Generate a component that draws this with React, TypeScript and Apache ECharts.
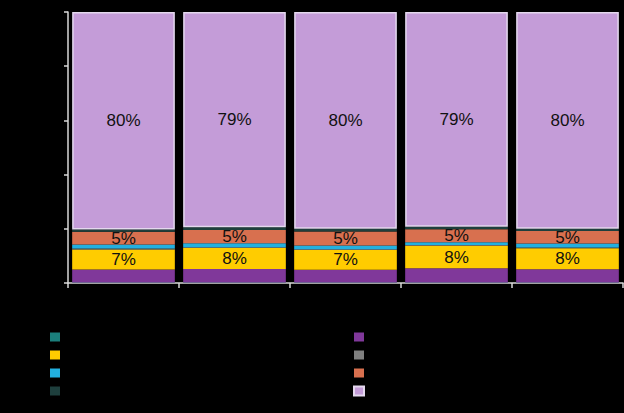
import React, { useEffect, useRef } from "react";
import * as echarts from "echarts";

const categories = ["1", "2", "3", "4", "5"];

const seriesNames = [
  "Series 1",
  "Series 2",
  "Series 3",
  "Series 4",
  "Series 5",
  "Series 6",
  "Series 7",
  "Series 8",
];

const teal = [0.2, 0.2, 0.2, 0.2, 0.2];
const purple = [4.8, 5.0, 4.7, 5.2, 4.9];
const yellow = [7.4, 7.7, 7.3, 8.3, 7.7];
const grey = [0.3, 0.3, 0.3, 0.3, 0.3];
const blue = [1.5, 1.5, 1.3, 1.0, 1.5];
const orange = [4.7, 4.9, 5.2, 4.8, 4.6];
const darkTeal = [0.8, 1.0, 1.0, 1.0, 0.8];
const lavender = [80.3, 79.4, 80.0, 79.2, 80.0];

const yTicks = [0, 20, 40, 60, 80, 100];

const colors = [
  "#1B7F7C",
  "#80389A",
  "#FFCC00",
  "#7F7F7F",
  "#22B0E0",
  "#D8704F",
  "#1E3F3D",
  "#C49CD8",
];

const values = [teal, purple, yellow, grey, blue, orange, darkTeal, lavender];
const labelled = [false, false, true, false, false, true, false, true];

export default function App() {
  const ref = useRef<HTMLDivElement>(null);

  useEffect(() => {
    document.body.style.margin = "0";
    document.body.style.background = "#000";
    const chart = echarts.init(ref.current!, null, { renderer: "svg" });
    const series = seriesNames.map((name, i) => ({
      name,
      type: "bar",
      stack: "total",
      data: values[i],
      barCategoryGap: "7.5%",
      itemStyle: {
        color: colors[i],
        borderColor: i === 7 ? "#E4D8EE" : colors[i],
        borderWidth: i === 7 ? 1.5 : 0,
      },
      label: {
        show: labelled[i],
        position: "inside",
        color: "#111",
        fontSize: 17,
        fontFamily: "Liberation Sans, Arial, sans-serif",
        formatter: (p: any) => (p.value >= 4.5 ? Math.round(p.value) + "%" : ""),
      },
    }));

    chart.setOption({
      animation: false,
      backgroundColor: "#000",
      grid: { left: 68, right: 1, top: 12, bottom: 130 },
      xAxis: {
        type: "category",
        data: categories,
        axisLine: { lineStyle: { color: "#D9D9D9", width: 1.5 } },
        axisTick: { show: true, length: 5, lineStyle: { color: "#D9D9D9", width: 1.5 } },
        axisLabel: { color: "#000", fontSize: 12 },
      },
      yAxis: {
        type: "value",
        min: yTicks[0],
        max: yTicks[yTicks.length - 1],
        interval: 20,
        axisLine: { show: true, lineStyle: { color: "#D9D9D9", width: 1.5 } },
        axisTick: { show: true, length: 4, lineStyle: { color: "#D9D9D9", width: 1.5 } },
        splitLine: { show: false },
        axisLabel: { color: "#000", fontSize: 12, formatter: "{value}%" },
      },
      legend: [
        {
          orient: "vertical",
          left: 45,
          top: 326,
          itemWidth: 10,
          itemHeight: 9,
          itemGap: 6,
          icon: "rect",
          textStyle: { color: "#000", fontSize: 12 },
          data: [seriesNames[0], seriesNames[2], seriesNames[4], seriesNames[6]],
        },
        {
          orient: "vertical",
          left: 348,
          top: 326,
          itemWidth: 10,
          itemHeight: 9,
          itemGap: 6,
          icon: "rect",
          textStyle: { color: "#000", fontSize: 12 },
          data: [seriesNames[1], seriesNames[3], seriesNames[5], seriesNames[7]],
        },
      ],
      series,
    });
    return () => chart.dispose();
  }, []);

  return <div ref={ref} style={{ width: 624, height: 413 }} />;
}
